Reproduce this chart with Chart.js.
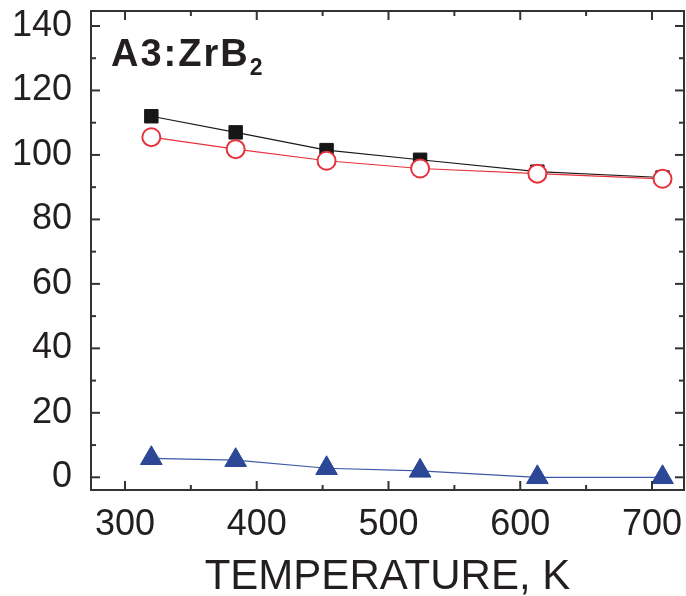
<!DOCTYPE html>
<html>
<head>
<meta charset="utf-8">
<script src="https://cdn.jsdelivr.net/npm/chart.js@4"></script>
<style>
    html, body { margin: 0; padding: 0; background: #fff; }
    #wrap { width: 686px; height: 596px; }
</style>
</head>
<body>
<div id="wrap"><canvas id="chart" width="686" height="596"></canvas></div>
<script>
// Data
const temperatures = [320, 384, 453, 524, 613, 708];
const squareSeries = [112, 107, 101.5, 98.5, 94.8, 93];
const circleSeries = [105.5, 101.8, 98.2, 95.8, 94.2, 92.6];
const triangleSeries = [5.9, 5.3, 2.8, 2.0, 0, 0];

const xTicks = [300, 400, 500, 600, 700];
const xMinorTicks = [350, 450, 550, 650];
const yTicks = [0, 20, 40, 60, 80, 100, 120, 140];
const yMinorTicks = [10, 30, 50, 70, 90, 110, 130];

const toPoints = (ys) => ys.map((y, i) => ({ x: temperatures[i], y: y }));

const frameColor = '#333';
const textColor = '#231f20';
const fontFamily = '"Liberation Sans", Arial, sans-serif';

// frame, inward ticks on all four sides, and the label in the corner
const framePlugin = {
    id: 'frame',
    afterDraw(chart) {
        const ctx = chart.ctx;
        const area = chart.chartArea;
        const xs = chart.scales.x;
        const ys = chart.scales.y;
        ctx.save();
        ctx.strokeStyle = frameColor;
        ctx.lineWidth = 2;
        ctx.strokeRect(area.left, area.top, area.right - area.left, area.bottom - area.top);

        const tick = (x1, y1, x2, y2) => {
            ctx.beginPath();
            ctx.moveTo(x1, y1);
            ctx.lineTo(x2, y2);
            ctx.stroke();
        };
        xTicks.forEach(v => {
            const px = xs.getPixelForValue(v);
            tick(px, area.bottom, px, area.bottom - 9);
            tick(px, area.top, px, area.top + 9);
        });
        xMinorTicks.forEach(v => {
            const px = xs.getPixelForValue(v);
            tick(px, area.bottom, px, area.bottom - 5);
            tick(px, area.top, px, area.top + 5);
        });
        yTicks.forEach(v => {
            const py = ys.getPixelForValue(v);
            tick(area.left, py, area.left + 9, py);
            tick(area.right, py, area.right - 9, py);
        });
        yMinorTicks.forEach(v => {
            const py = ys.getPixelForValue(v);
            tick(area.left, py, area.left + 5, py);
            tick(area.right, py, area.right - 5, py);
        });

        // sample label
        ctx.fillStyle = textColor;
        ctx.textBaseline = 'alphabetic';
        ctx.font = 'bold 38px ' + fontFamily;
        ctx.letterSpacing = '2px';
        const main = 'A3:ZrB';
        ctx.fillText(main, 111, 66);
        const w = ctx.measureText(main).width;
        ctx.font = 'bold 23px ' + fontFamily;
        ctx.letterSpacing = '0px';
        ctx.fillText('2', 111 + w, 75);
        ctx.restore();
    }
};

// stop the scales from reserving room for edge labels
const noEdgePadding = (scale) => {
    scale.paddingLeft = 0;
    scale.paddingRight = 0;
    scale.paddingTop = 0;
    scale.paddingBottom = 0;
};

new Chart(document.getElementById('chart').getContext('2d'), {
    type: 'line',
    data: {
        datasets: [
            {
                label: 'circles',
                data: toPoints(circleSeries),
                borderColor: '#e5323c',
                borderWidth: 1.2,
                pointStyle: 'circle',
                pointRadius: 9,
                pointBorderWidth: 2,
                pointBackgroundColor: '#fff',
                pointBorderColor: '#e5323c',
                order: 1
            },
            {
                label: 'squares',
                data: toPoints(squareSeries),
                borderColor: '#1a1a1a',
                borderWidth: 1.2,
                pointStyle: 'rect',
                pointRadius: 9.5,
                pointBorderWidth: 1,
                pointBackgroundColor: '#161616',
                pointBorderColor: '#161616',
                order: 2
            },
            {
                label: 'triangles',
                data: toPoints(triangleSeries),
                borderColor: '#3f58a6',
                borderWidth: 1.2,
                pointStyle: 'triangle',
                pointRadius: 12.5,
                pointBorderWidth: 1,
                pointBackgroundColor: '#2b4795',
                pointBorderColor: '#2b4795',
                order: 3
            }
        ]
    },
    options: {
        responsive: false,
        animation: false,
        layout: { autoPadding: false, padding: { top: 11, right: 2, left: 0, bottom: 0 } },
        plugins: {
            legend: { display: false },
            tooltip: { enabled: false }
        },
        elements: { line: { tension: 0 } },
        scales: {
            x: {
                type: 'linear',
                min: 274.2,
                max: 724.3,
                grid: { display: false, tickLength: 0 },
                border: { display: false },
                afterBuildTicks: (scale) => {
                    scale.ticks = xTicks.map(v => ({ value: v }));
                },
                afterFit: (scale) => {
                    scale.height = 106;
                    noEdgePadding(scale);
                },
                ticks: {
                    color: textColor,
                    padding: 13,
                    maxRotation: 0,
                    font: { family: fontFamily, size: 36 }
                },
                title: {
                    display: true,
                    text: 'TEMPERATURE, K',
                    color: textColor,
                    padding: { top: 0, bottom: -2 },
                    font: { family: fontFamily, size: 42, lineHeight: 1 }
                }
            },
            y: {
                type: 'linear',
                min: -3.94,
                max: 144.65,
                grid: { display: false, tickLength: 0 },
                border: { display: false },
                afterBuildTicks: (scale) => {
                    scale.ticks = yTicks.map(v => ({ value: v }));
                },
                afterFit: (scale) => {
                    scale.width = 91;
                    noEdgePadding(scale);
                },
                ticks: {
                    color: textColor,
                    padding: 19,
                    font: { family: fontFamily, size: 36 }
                }
            }
        }
    },
    plugins: [framePlugin]
});
</script>
</body>
</html>
